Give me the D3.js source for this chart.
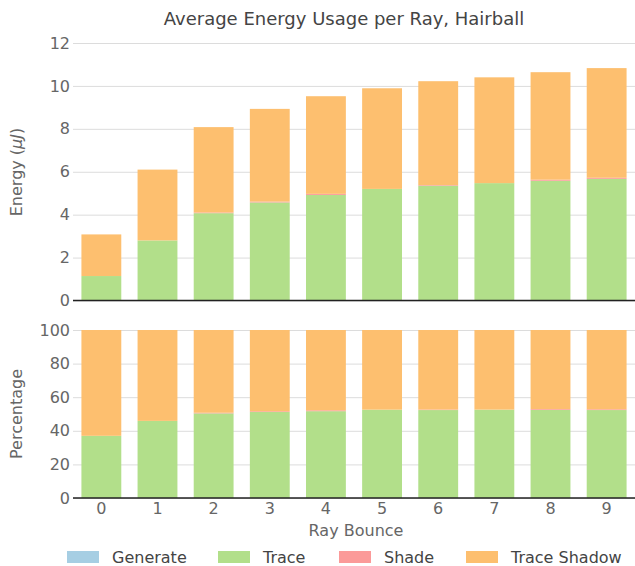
<!DOCTYPE html>
<html>
<head>
<meta charset="utf-8">
<script src="https://cdn.jsdelivr.net/npm/d3@7"></script>
<style>
  body { margin: 0; background: #fff; }
  text { font-family: "DejaVu Sans", sans-serif; }
  .grid line { stroke: #dcdcdc; }
  .grid text { fill: #666; font-size: 16px; }
  .xaxis text { fill: #666; font-size: 16px; }
</style>
</head>
<body>
<script>
// ray bounce categories
var bounces = ["0", "1", "2", "3", "4", "5", "6", "7", "8", "9"];
// energy per stage (uJ)
var generate = [0, 0, 0, 0, 0, 0, 0, 0, 0, 0];
var trace = [1.14, 2.80, 4.07, 4.57, 4.92, 5.20, 5.35, 5.47, 5.58, 5.67];
var shade = [0, 0, 0.03, 0.04, 0.05, 0, 0.03, 0, 0.05, 0.05];
var traceShadow = [1.94, 3.30, 3.98, 4.32, 4.55, 4.69, 4.84, 4.93, 5.01, 5.11];

var stages = ["Generate", "Trace", "Shade", "Trace Shadow"];
var colors = ["#a6cee3", "#b2df8a", "#fb9a99", "#fdbf6f"];
var energyTicks = [0, 2, 4, 6, 8, 10, 12];
var pctTicks = [0, 20, 40, 60, 80, 100];

var W = 635, H = 566;
var left = 73, right = 635;

var svg = d3.select("body").append("svg").attr("width", W).attr("height", H);

// rows for stacking
var rows = bounces.map(function (b, i) {
    return {bounce: b, "Generate": generate[i], "Trace": trace[i], "Shade": shade[i], "Trace Shadow": traceShadow[i]};
});
var pctRows = rows.map(function (r) {
    var tot = d3.sum(stages, function (s) { return r[s]; });
    var o = {bounce: r.bounce};
    stages.forEach(function (s) { o[s] = r[s] / tot * 100; });
    return o;
});

var x = d3.scaleBand().domain(bounces).range([left, right]).paddingInner(0.29).paddingOuter(0.15);
var color = d3.scaleOrdinal().domain(stages).range(colors);
var stack = d3.stack().keys(stages);

function panel(data, yscale, ticks) {
    var g = svg.append("g");
    g.append("g")
        .attr("class", "grid")
        .attr("transform", "translate(" + left + ",0)")
        .call(d3.axisLeft(yscale).tickValues(ticks).tickSize(-(right - left)).tickPadding(3))
        .call(function (a) { a.select(".domain").remove(); });

    g.append("g").selectAll("g")
        .data(stack(data))
        .enter().append("g")
        .attr("fill", function (d) { return color(d.key); })
        .selectAll("rect")
        .data(function (d) { return d; })
        .enter().append("rect")
        .attr("x", function (d) { return x(d.data.bounce); })
        .attr("width", x.bandwidth())
        .attr("y", function (d) { return yscale(d[1]); })
        .attr("height", function (d) { return yscale(d[0]) - yscale(d[1]); });

    g.append("line")
        .attr("x1", left).attr("x2", right)
        .attr("y1", yscale(0)).attr("y2", yscale(0))
        .attr("stroke", "#222").attr("stroke-width", 1.5);
    return g;
}

var yTop = d3.scaleLinear().domain([0, 12]).range([300.5, 43]);
var yBot = d3.scaleLinear().domain([0, 100]).range([498, 330]);

panel(rows, yTop, energyTicks);
panel(pctRows, yBot, pctTicks);

// x axis labels
svg.append("g")
    .attr("class", "xaxis")
    .attr("transform", "translate(0,498)")
    .call(d3.axisBottom(x).tickSize(0).tickPadding(5))
    .call(function (a) { a.select(".domain").remove(); });

// title
svg.append("text")
    .attr("x", 344).attr("y", 25)
    .attr("text-anchor", "middle")
    .attr("fill", "#444").style("font-size", "18px")
    .text("Average Energy Usage per Ray, Hairball");

// axis titles
var yl = svg.append("text")
    .attr("transform", "translate(22,172) rotate(-90)")
    .attr("text-anchor", "middle")
    .attr("fill", "#666").style("font-size", "16px");
yl.append("tspan").text("Energy (");
yl.append("tspan").style("font-style", "italic").text("μJ");
yl.append("tspan").text(")");

svg.append("text")
    .attr("transform", "translate(22,414) rotate(-90)")
    .attr("text-anchor", "middle")
    .attr("fill", "#666").style("font-size", "16px")
    .text("Percentage");

svg.append("text")
    .attr("x", 356).attr("y", 536)
    .attr("text-anchor", "middle")
    .attr("fill", "#666").style("font-size", "16px")
    .text("Ray Bounce");

// legend
var legX = [67, 218, 339, 466];
var leg = svg.append("g").selectAll("g")
    .data(stages)
    .enter().append("g")
    .attr("transform", function (d, i) { return "translate(" + legX[i] + ",551)"; });
leg.append("rect")
    .attr("width", 32).attr("height", 12)
    .attr("fill", function (d) { return color(d); });
leg.append("text")
    .attr("x", 45).attr("y", 12)
    .attr("fill", "#444").style("font-size", "16px")
    .text(function (d) { return d; });
</script>
</body>
</html>
